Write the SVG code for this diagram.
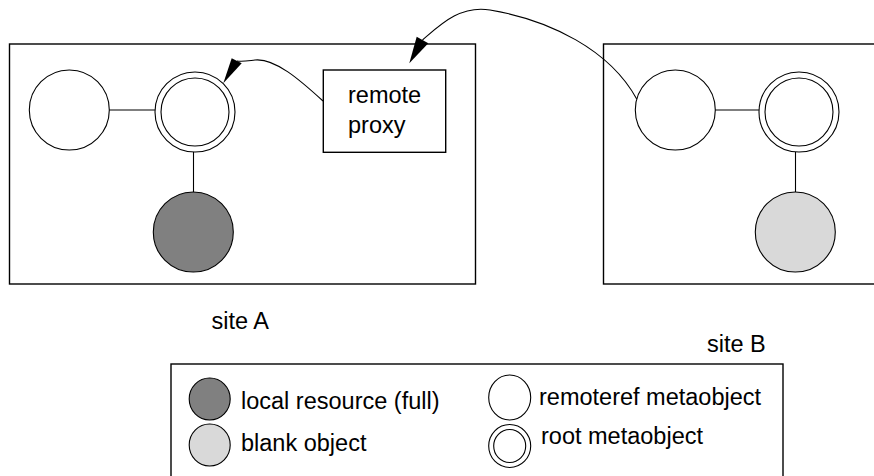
<svg xmlns="http://www.w3.org/2000/svg" width="874" height="476" viewBox="0 0 874 476">
<style>
.box{fill:#fff;stroke:#000;stroke-width:1.4}
.c{fill:#fff;stroke:#000;stroke-width:1.1}
.dark{fill:#808080;stroke:#000;stroke-width:1.1}
.light{fill:#d9d9d9;stroke:#000;stroke-width:1.1}
.ln{fill:none;stroke:#000;stroke-width:1.1}
.t{font-family:"Liberation Sans",Arial,sans-serif;font-size:23.5px;fill:#000}
</style>
<rect width="874" height="476" fill="#fff"/>
<g id="siteA">
<rect class="box" x="9.5" y="44" width="466" height="240"/>
<text class="t" x="211.5" y="329">site A</text>
</g>
<g id="siteB">
<rect class="box" x="603.5" y="44" width="300" height="240"/>
<text class="t" x="707" y="352">site B</text>
</g>
<g id="connectors">
<line class="ln" x1="109" y1="110" x2="155" y2="110"/>
<line class="ln" x1="193.5" y1="152" x2="193.5" y2="192"/>
<line class="ln" x1="715" y1="110" x2="759" y2="110"/>
<line class="ln" x1="795.5" y1="152" x2="795.5" y2="192"/>
<path class="ln" d="M323,101 C300,80 275,58 255,60 C247,61 242,62 237,61"/>
<polygon points="223.3,83.3 231.7,58.3 241.7,63.3" fill="#000"/>
<path class="ln" d="M636.7,99 C610,50 550,20 490,10 C460,5 440,25 422.5,40"/>
<polygon points="409.3,63.3 416.7,36.7 428.3,43.3" fill="#000"/>
</g>
<g id="A-remoteref"><circle class="c" cx="69.3" cy="110" r="40"/></g>
<g id="A-root"><circle class="c" cx="195" cy="112" r="40"/><circle class="c" cx="195" cy="112" r="34"/></g>
<g id="A-local"><circle class="dark" cx="193.3" cy="232" r="40"/></g>
<g id="A-proxy">
<rect class="box" x="323.3" y="70" width="122.4" height="82.3"/>
<text class="t" x="348" y="103">remote</text>
<text class="t" x="348" y="133">proxy</text>
</g>
<g id="B-remoteref"><circle class="c" cx="675.3" cy="110" r="40"/></g>
<g id="B-root"><circle class="c" cx="799" cy="112" r="40"/><circle class="c" cx="799" cy="112" r="34"/></g>
<g id="B-blank"><circle class="light" cx="795.3" cy="232" r="40"/></g>
<g id="legend">
<rect class="box" x="171" y="364" width="612" height="120"/>
<ellipse class="dark" cx="209.7" cy="399" rx="20.5" ry="21"/>
<text class="t" x="241" y="409">local resource (full)</text>
<ellipse class="light" cx="209.7" cy="445" rx="20.5" ry="21"/>
<text class="t" x="241" y="451">blank object</text>
<ellipse class="c" cx="509.7" cy="397.5" rx="21" ry="22.5"/>
<text class="t" x="539" y="405">remoteref metaobject</text>
<ellipse class="c" cx="509.7" cy="446" rx="21" ry="21.5"/>
<ellipse class="c" cx="509.7" cy="446" rx="16" ry="16.5"/>
<text class="t" x="541" y="444">root metaobject</text>
</g>
</svg>
